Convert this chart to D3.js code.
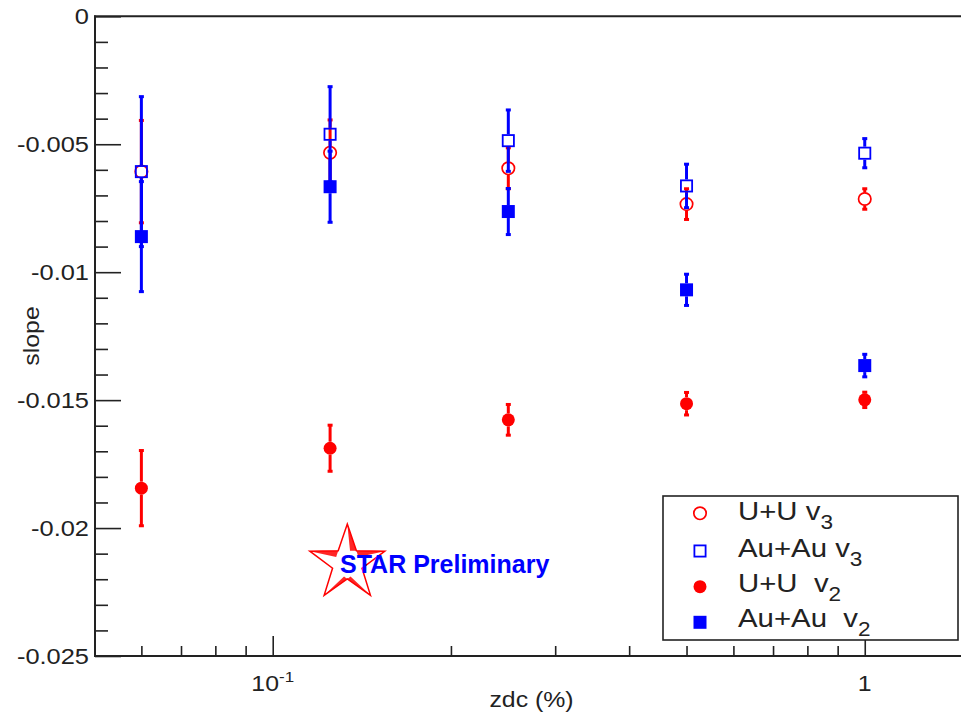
<!DOCTYPE html>
<html><head><meta charset="utf-8">
<script src="https://cdn.jsdelivr.net/npm/d3@7"></script>
<style>
html,body{margin:0;padding:0;background:#fff;}
svg{display:block;}
text{font-family:"Liberation Sans",Arial,Helvetica,sans-serif;white-space:pre;}
</style></head>
<body>
<svg id="c" width="961" height="714"></svg>
<script>
// ---- data ----
const xVals   = [0.06, 0.125, 0.25, 0.5, 1];
const uuV3    = [-0.00607, -0.00533, -0.00594, -0.00734, -0.00714];
const uuV3Err = [0.0020, 0.00128, 0.0008, 0.0006, 0.0004];
const auV3    = [-0.00607, -0.00461, -0.00486, -0.00663, -0.00535];
const auV3Err = [0.00293, 0.00186, 0.0012, 0.00085, 0.00057];
const uuV2    = [-0.01844, -0.01688, -0.01577, -0.01514, -0.01499];
const uuV2Err = [0.00147, 0.0009, 0.0006, 0.00044, 0.0003];
const auV2    = [-0.00861, -0.00666, -0.00763, -0.01069, -0.01365];
const auV2Err = [0.00215, 0.00139, 0.0009, 0.00061, 0.00044];

const yMajorTicks  = [0, -0.005, -0.01, -0.015, -0.02, -0.025];
const yTickLabels  = ["0", "-0.005", "-0.01", "-0.015", "-0.02", "-0.025"];
const xMajorTicks  = [0.1, 1];
const xMinorTicks  = [0.06, 0.07, 0.08, 0.09, 0.2, 0.3, 0.4, 0.5, 0.6, 0.7, 0.8, 0.9];

const series = [
  {name: "U+U v", sub: "3", vals: uuV3, errs: uuV3Err, color: "#ff0000", shape: "circle", filled: false},
  {name: "Au+Au v", sub: "3", vals: auV3, errs: auV3Err, color: "#0000ff", shape: "square", filled: false},
  {name: "U+U  v", sub: "2", vals: uuV2, errs: uuV2Err, color: "#ff0000", shape: "circle", filled: true},
  {name: "Au+Au  v", sub: "2", vals: auV2, errs: auV2Err, color: "#0000ff", shape: "square", filled: true}
];

// ---- layout ----
const svg = d3.select("#c");
const x = d3.scaleLog().domain([0.05, 1.5]).range([94.5, 969]);
const y = d3.scaleLinear().domain([-0.025, 0]).range([656, 16.3]);
const SX = 1.13;
const axisColor = "#222";

function stext(parent, tx, ty, anchor, fs, str, extra) {
  const g = parent.append("g").attr("transform", `translate(${tx},${ty}) ${extra||""} scale(${SX},1)`);
  return g.append("text").attr("text-anchor", anchor).attr("font-size", fs).attr("fill", "#222").text(str);
}

// y axis ticks
const yMinor = d3.range(1, 25).map(i => -i * 0.001).filter(v => Math.abs(Math.round(v * 1000)) % 5 !== 0);
const yAxisMajor = d3.axisLeft(y).tickValues(yMajorTicks).tickSize(-26).tickFormat("");
const yAxisMinor = d3.axisLeft(y).tickValues(yMinor).tickSize(-13).tickFormat("");
const gy1 = svg.append("g").attr("transform", "translate(95,0)").call(yAxisMajor);
const gy2 = svg.append("g").attr("transform", "translate(95,0)").call(yAxisMinor);
[gy1, gy2].forEach(g => { g.select(".domain").remove(); g.selectAll("line").attr("stroke", axisColor).attr("stroke-width", 1.6); });

// x axis ticks
const xAxisMajor = d3.axisBottom(x).tickValues(xMajorTicks).tickSize(-20).tickFormat("");
const xAxisMinor = d3.axisBottom(x).tickValues(xMinorTicks).tickSize(-10).tickFormat("");
const gx1 = svg.append("g").attr("transform", "translate(0,656)").call(xAxisMajor);
const gx2 = svg.append("g").attr("transform", "translate(0,656)").call(xAxisMinor);
[gx1, gx2].forEach(g => { g.select(".domain").remove(); g.selectAll("line").attr("stroke", axisColor).attr("stroke-width", 1.6); });

// frame lines
svg.append("line").attr("x1", 95).attr("x2", 95).attr("y1", 15.5).attr("y2", 657).attr("stroke", axisColor).attr("stroke-width", 2);
svg.append("line").attr("x1", 94).attr("x2", 961).attr("y1", 656).attr("y2", 656).attr("stroke", axisColor).attr("stroke-width", 2);
svg.append("line").attr("x1", 94).attr("x2", 961).attr("y1", 16.3).attr("y2", 16.3).attr("stroke", axisColor).attr("stroke-width", 2);

// y tick labels
yMajorTicks.forEach((v, i) => {
  stext(svg, 89, y(v) + 8, "end", 22.5, yTickLabels[i]);
});
// x tick labels
{
  const t = stext(svg, x(0.1), 690.5, "middle", 22, "10");
  t.append("tspan").attr("font-size", 15).attr("dy", -8.5).text("-1");
  stext(svg, x(1), 691, "middle", 22, "1");
}
// axis titles
stext(svg, 531.5, 706.5, "middle", 22, "zdc (%)");
stext(svg, 39, 336, "middle", 22, "slope", "rotate(-90)");

// ---- data marks ----
const half = 6.5;
function marker(g, cx, cy, s, r) {
  if (s.shape === "circle") {
    g.append("circle").attr("cx", cx).attr("cy", cy).attr("r", s.filled ? r : r - 0.3)
      .attr("fill", s.filled ? s.color : "none").attr("stroke", s.color).attr("stroke-width", s.filled ? 0 : 1.7);
  } else {
    const h = r;
    if (s.filled) g.append("rect").attr("x", cx - h).attr("y", cy - h).attr("width", 2 * h).attr("height", 2 * h).attr("fill", s.color);
    else g.append("rect").attr("x", cx - h + 0.9).attr("y", cy - h + 0.9).attr("width", 2 * h - 1.8).attr("height", 2 * h - 1.8)
      .attr("fill", "none").attr("stroke", s.color).attr("stroke-width", 1.8);
  }
}
series.forEach(s => {
  const g = svg.append("g");
  xVals.forEach((xv, i) => {
    const cx = x(xv), cy = y(s.vals[i]);
    const yt = y(s.vals[i] + s.errs[i]), yb = y(s.vals[i] - s.errs[i]);
    if (cy - half > yt) g.append("line").attr("x1", cx).attr("x2", cx).attr("y1", cy - half).attr("y2", yt).attr("stroke", s.color).attr("stroke-width", 3);
    if (cy + half < yb) g.append("line").attr("x1", cx).attr("x2", cx).attr("y1", cy + half).attr("y2", yb).attr("stroke", s.color).attr("stroke-width", 3);
    [yt, yb].forEach(ye => g.append("rect").attr("x", cx - 2.5).attr("y", ye - 1.5).attr("width", 5).attr("height", 3).attr("fill", s.color));
    marker(g, cx, cy, s, half);
  });
});

// ---- legend ----
const lg = svg.append("g");
lg.append("rect").attr("x", 663).attr("y", 496).attr("width", 295).attr("height", 144)
  .attr("fill", "#fff").attr("stroke", axisColor).attr("stroke-width", 1.6);
const rowY = [513.3, 551, 586.7, 622.3];
const textBase = [520, 557.3, 591.7, 626.7];
series.forEach((s, i) => {
  marker(lg, 700, rowY[i], s, 6.5);
  const t = stext(lg, 738, textBase[i], "start", 26, s.name);
  t.append("tspan").attr("font-size", 20).attr("dy", 9).text(s.sub);
});

// ---- STAR Preliminary logo ----
{
  const cx = 347.3, cy = 563.4, R = 39.4, r = 15.5;
  const pts = [];
  for (let k = 0; k < 10; k++) {
    const a = -Math.PI / 2 + k * Math.PI / 5;
    const rr = k % 2 === 0 ? R : r;
    pts.push([cx + rr * Math.cos(a), cy + rr * Math.sin(a)]);
  }
  const sg = svg.append("g");
  sg.append("polygon").attr("points", pts.map(p => p.join(",")).join(" "))
    .attr("fill", "#fff").attr("stroke", "#ff0000").attr("stroke-width", 1.5).attr("stroke-linejoin", "miter");
  // shaded side of each arm: [tip index, inner vertex index, depth]
  const shades = [[0, 1, 0.35], [2, 1, 0.35], [8, 9, 0.35], [4, 5, 0.22], [6, 5, 0.22]];
  shades.forEach(([ti, ii, d]) => {
    const tip = pts[ti], inA = pts[ii];
    const other = pts[(ii === (ti + 1) % 10) ? (ti + 9) % 10 : (ti + 1) % 10];
    const p = [inA[0] + d * (other[0] - inA[0]), inA[1] + d * (other[1] - inA[1])];
    sg.append("polygon").attr("points", [tip, inA, p].map(q => q.join(",")).join(" "))
      .attr("fill", "#ff0000").attr("opacity", 0.85);
  });
  svg.append("text").attr("x", 340).attr("y", 572.5).attr("font-size", 25).attr("font-weight", "bold")
    .attr("fill", "#0000ff").text("STAR Preliminary");
}
</script>
</body></html>
